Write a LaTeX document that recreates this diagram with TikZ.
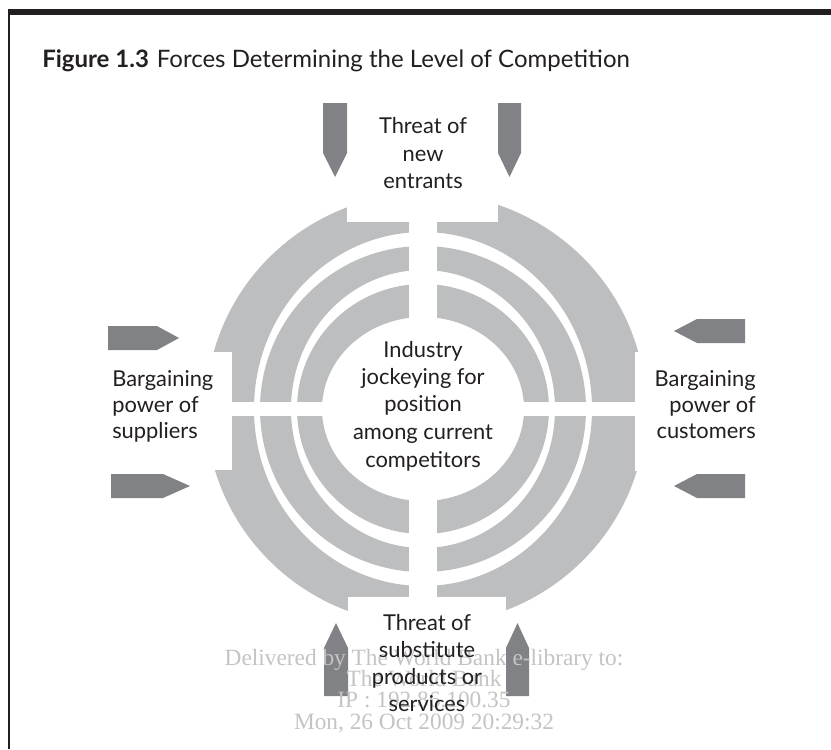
\documentclass[tikz,border=0pt]{standalone}
\usepackage{fontspec}
\setmainfont{Lato}
\newfontfamily\wmfont{Liberation Serif}
\definecolor{ringgrey}{HTML}{BCBEC0}
\definecolor{arrowgrey}{HTML}{808285}
\definecolor{framecol}{HTML}{231F20}
\definecolor{textcol}{HTML}{231F20}
\definecolor{wmgrey}{HTML}{C4C4C4}
\begin{document}
\begin{tikzpicture}[x=0.75pt,y=-0.75pt,
  lbl/.style={font=\fontsize{16.4}{20}\selectfont, text=textcol, inner sep=0pt},
  ttl/.style={font=\fontsize{18}{22}\selectfont, text=textcol, inner sep=0pt},
  wm/.style={font=\wmfont\fontsize{17.5}{20}\selectfont, text=wmgrey, inner sep=0pt},
  band/.style={fill=ringgrey, even odd rule},
  cut/.style={fill=white},
  arr/.style={fill=arrowgrey}]
\useasboundingbox (0,0) rectangle (831,749);
\fill[white] (0,0) rectangle (831,749);
% frame
\fill[framecol] (8,9) rectangle (831,15);
\fill[framecol] (8,9) rectangle (10,749);
% title
\node[ttl,anchor=base west] (title) at (42,68) {\textbf{Figure 1.3}\hspace{6pt}Forces Determining the Level of Competition};
% rings
\fill[band] (426,409) ellipse [x radius=220, y radius=216] (423,409) ellipse [x radius=169, y radius=177];
\fill[band] (423,409) ellipse [x radius=163, y radius=163] (423,409) ellipse [x radius=132, y radius=139];
\fill[band] (423,409) ellipse [x radius=126, y radius=125] (423,409) ellipse [x radius=101, y radius=92];
% gaps
\fill[cut] (409,150) rectangle (437,660);
\fill[cut] (180,402) rectangle (670,416);
% notches
\fill[cut] (347,180) rectangle (498,222);
\fill[cut] (348,597) rectangle (506,640);
\fill[cut] (190,352) rectangle (232,470);
\fill[cut] (635,352) rectangle (660,471);
% arrows
\fill[arr] (323,103) -- (347,103) -- (347,153) -- (335,177) -- (323,153) -- cycle;
\fill[arr] (498,103) -- (521,103) -- (521,153) -- (509.5,177) -- (498,153) -- cycle;
\fill[arr] (324,696) -- (348,696) -- (348,648) -- (336,623) -- (324,648) -- cycle;
\fill[arr] (506,696) -- (529,696) -- (529,648) -- (517.5,623) -- (506,648) -- cycle;
\fill[arr] (108,326) -- (157,326) -- (179,338) -- (157,350) -- (108,350) -- cycle;
\fill[arr] (111,474) -- (163,474) -- (190,486) -- (163,498) -- (111,498) -- cycle;
\fill[arr] (745,319) -- (697,319) -- (674,331) -- (697,343) -- (745,343) -- cycle;
\fill[arr] (745,474) -- (697,474) -- (674,486) -- (697,498) -- (745,498) -- cycle;
% watermark
\node[wm,anchor=base] (w1) at (424,665) {Delivered by The World Bank e-library to:};
\node[wm,anchor=base] (w2) at (424,686) {The World Bank};
\node[wm,anchor=base] (w3) at (424,707) {IP : 192.86.100.35};
\node[wm,anchor=base] (w4) at (424,729) {Mon, 26 Oct 2009 20:29:32};
% top label
\node[lbl,anchor=base] (n1) at (423,133) {Threat of};
\node[lbl,anchor=base] (n2) at (423,161) {new};
\node[lbl,anchor=base] (n3) at (423,188) {entrants};
% centre
\node[lbl,anchor=base] (c1) at (423,357) {Industry};
\node[lbl,anchor=base] (c2) at (423,384) {jockeying for};
\node[lbl,anchor=base] (c3) at (423,411) {position};
\node[lbl,anchor=base] (c4) at (423,439) {among current};
\node[lbl,anchor=base] (c5) at (423,467) {competitors};
% left
\node[lbl,anchor=base west] (s1) at (112,386) {Bargaining};
\node[lbl,anchor=base west] (s2) at (112,412) {power of};
\node[lbl,anchor=base west] (s3) at (112,438) {suppliers};
% right
\node[lbl,anchor=base east] (k1) at (756,386) {Bargaining};
\node[lbl,anchor=base east] (k2) at (756,412) {power of};
\node[lbl,anchor=base east] (k3) at (756,438) {customers};
% bottom
\node[lbl,anchor=base] (b1) at (427,630) {Threat of};
\node[lbl,anchor=base] (b2) at (427,657) {substitute};
\node[lbl,anchor=base] (b3) at (427,684) {products or};
\node[lbl,anchor=base] (b4) at (427,711) {services};
\end{tikzpicture}
\end{document}
